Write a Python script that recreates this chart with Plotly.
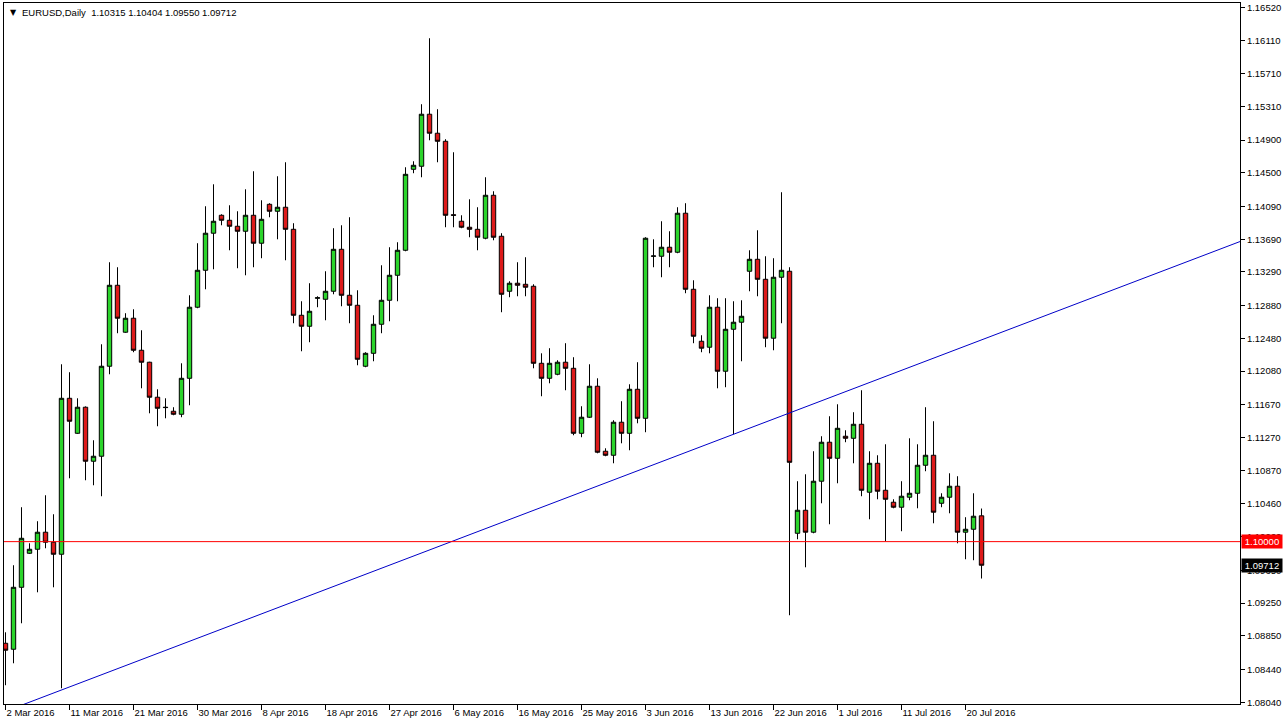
import plotly.graph_objects as go

# ---------------- data (EURUSD daily) ----------------
opens = [
    1.08760, 1.08687, 1.09443, 1.09858, 1.09907, 1.10115, 1.09993, 1.09846, 1.11749, 1.11322,
    1.11640, 1.10981, 1.11042, 1.12140, 1.13128, 1.12555, 1.12726, 1.12335, 1.12189, 1.11762,
    1.11640, 1.11591, 1.11554, 1.11993, 1.12860, 1.13311, 1.13763, 1.13982, 1.13921, 1.13848,
    1.13787, 1.13982, 1.13641, 1.14116, 1.14031, 1.14080, 1.13811, 1.12762, 1.12628, 1.12970,
    1.12957, 1.13055, 1.13567, 1.13006, 1.12884, 1.12140, 1.12298, 1.12652, 1.12945, 1.13250,
    1.13555, 1.14543, 1.14580, 1.15215, 1.14983, 1.14885, 1.13988, 1.13909, 1.13836, 1.13811,
    1.13702, 1.14226, 1.13726, 1.13055, 1.13153, 1.13140, 1.13116, 1.12176, 1.11993, 1.12042,
    1.12189, 1.12115, 1.11322, 1.11518, 1.11896, 1.11103, 1.11054, 1.11457, 1.11322, 1.11859,
    1.11505, 1.13482, 1.13482, 1.13592, 1.13531, 1.14007, 1.13079, 1.12445, 1.12372, 1.12860,
    1.12079, 1.12591, 1.12677, 1.13299, 1.13445, 1.13201, 1.12482, 1.13226, 1.13299, 1.10102,
    1.10383, 1.10115, 1.10737, 1.11213, 1.11017, 1.11286, 1.11261, 1.11432, 1.10603, 1.10956,
    1.10627, 1.10481, 1.10420, 1.10542, 1.10590, 1.10932, 1.11054, 1.10468, 1.10542, 1.10676,
    1.10115, 1.10151, 1.10315]

highs = [
    1.08894, 1.09712, 1.10420, 1.09980, 1.10249, 1.10566, 1.10334, 1.12164, 1.12067, 1.11749,
    1.11650, 1.11237, 1.12408, 1.13409, 1.13348, 1.12787, 1.12835, 1.12579, 1.12195, 1.11859,
    1.11749, 1.11640, 1.12176, 1.13006, 1.13641, 1.14092, 1.14360, 1.13994, 1.14104, 1.14031,
    1.14299, 1.14519, 1.14165, 1.14129, 1.14458, 1.14629, 1.13885, 1.12933, 1.13153, 1.12994,
    1.13299, 1.13824, 1.13860, 1.13958, 1.13067, 1.12311, 1.12762, 1.13372, 1.13592, 1.13653,
    1.14568, 1.14641, 1.15337, 1.16142, 1.15276, 1.14910, 1.14751, 1.13982, 1.14177, 1.14080,
    1.14446, 1.14275, 1.13763, 1.13177, 1.13409, 1.13470, 1.13140, 1.12298, 1.12360, 1.12213,
    1.12421, 1.12250, 1.11652, 1.12164, 1.11993, 1.11139, 1.11481, 1.11713, 1.11920, 1.12189,
    1.13714, 1.13689, 1.13909, 1.13787, 1.14080, 1.14129, 1.13189, 1.12518, 1.13006, 1.12970,
    1.12970, 1.12933, 1.12945, 1.13555, 1.13799, 1.13482, 1.13458, 1.14263, 1.13348, 1.10737,
    1.10822, 1.11103, 1.11286, 1.11530, 1.11676, 1.11359, 1.11579, 1.11847, 1.11103, 1.11054,
    1.11188, 1.10517, 1.10737, 1.11261, 1.11188, 1.11640, 1.11469, 1.10590, 1.10834, 1.10798,
    1.10298, 1.10590, 1.10404]

lows = [
    1.08248, 1.08516, 1.09004, 1.09850, 1.09382, 1.09919, 1.09443, 1.08211, 1.10773, 1.11315,
    1.10749, 1.10688, 1.10554, 1.12042, 1.12543, 1.12548, 1.12311, 1.11871, 1.11566, 1.11408,
    1.11505, 1.11542, 1.11518, 1.11664, 1.12848, 1.13079, 1.13323, 1.13860, 1.13555, 1.13336,
    1.13250, 1.13348, 1.13458, 1.13958, 1.13689, 1.13433, 1.12665, 1.12323, 1.12433, 1.12860,
    1.12701, 1.13018, 1.12872, 1.12665, 1.12152, 1.12128, 1.12201, 1.12543, 1.12689, 1.12933,
    1.13543, 1.14495, 1.14446, 1.14897, 1.14629, 1.13836, 1.13836, 1.13824, 1.13714, 1.13555,
    1.13689, 1.13677, 1.12799, 1.12982, 1.12994, 1.12994, 1.12115, 1.11774, 1.11932, 1.12030,
    1.11847, 1.11298, 1.11274, 1.11510, 1.11078, 1.11042, 1.10956, 1.11200, 1.11115, 1.11444,
    1.11335, 1.13348, 1.13226, 1.13348, 1.13519, 1.13031, 1.12421, 1.12311, 1.12298, 1.11871,
    1.11884, 1.11310, 1.12201, 1.13055, 1.12994, 1.12372, 1.12335, 1.12665, 1.09102, 1.10029,
    1.09687, 1.10102, 1.10468, 1.10212, 1.10712, 1.11213, 1.10956, 1.10554, 1.10273, 1.10517,
    1.10005, 1.10407, 1.10127, 1.10505, 1.10407, 1.10859, 1.10224, 1.10420, 1.10346, 1.09980,
    1.09785, 1.09773, 1.09550]

closes = [
    1.08675, 1.09443, 1.10041, 1.09907, 1.10115, 1.09993, 1.09846, 1.11749, 1.11469, 1.11640,
    1.10981, 1.11042, 1.12140, 1.13128, 1.12726, 1.12726, 1.12335, 1.12189, 1.11762, 1.11627,
    1.11636, 1.11554, 1.11993, 1.12860, 1.13311, 1.13763, 1.13909, 1.13921, 1.13848, 1.13787,
    1.13982, 1.13641, 1.13933, 1.14031, 1.14080, 1.13811, 1.12762, 1.12628, 1.12811, 1.12975,
    1.13055, 1.13567, 1.13006, 1.12884, 1.12225, 1.12298, 1.12652, 1.12945, 1.13250, 1.13555,
    1.14482, 1.14592, 1.15215, 1.14983, 1.14885, 1.13982, 1.13982, 1.13836, 1.13811, 1.13714,
    1.14226, 1.13714, 1.13018, 1.13153, 1.13128, 1.13104, 1.12176, 1.11993, 1.12176, 1.12189,
    1.12115, 1.11322, 1.11518, 1.11896, 1.11091, 1.11054, 1.11457, 1.11322, 1.11859, 1.11505,
    1.13702, 1.13485, 1.13592, 1.13531, 1.14007, 1.13079, 1.12506, 1.12360, 1.12860, 1.12079,
    1.12591, 1.12677, 1.12750, 1.13445, 1.13201, 1.12482, 1.13226, 1.13311, 1.10968, 1.10383,
    1.10115, 1.10737, 1.11213, 1.11017, 1.11383, 1.11261, 1.11432, 1.10627, 1.10956, 1.10615,
    1.10517, 1.10420, 1.10554, 1.10590, 1.10932, 1.11054, 1.10359, 1.10542, 1.10676, 1.10115,
    1.10151, 1.10310, 1.09712]

date_labels = ["2 Mar 2016", "11 Mar 2016", "21 Mar 2016", "30 Mar 2016", "8 Apr 2016",
               "18 Apr 2016", "27 Apr 2016", "6 May 2016", "16 May 2016", "25 May 2016",
               "3 Jun 2016", "13 Jun 2016", "22 Jun 2016", "1 Jul 2016", "11 Jul 2016",
               "20 Jul 2016"]
date_label_bars = [0, 8, 16, 24, 32, 40, 48, 56, 64, 72, 80, 88, 96, 104, 112, 120]

price_ticks = [1.16520, 1.16110, 1.15710, 1.15310, 1.14900, 1.14500, 1.14090, 1.13690,
               1.13290, 1.12880, 1.12480, 1.12080, 1.11670, 1.11270, 1.10870, 1.10460,
               1.10060, 1.09650, 1.09250, 1.08850, 1.08440, 1.08040]

symbol = "EURUSD,Daily"
hline_level = 1.10000
trend_bars = [7, 91]
trend_prices = [1.08190, 1.11310]

# ---------------- styling ----------------
BULL = "#2bd42b"
BEAR = "#dd1a1a"
FONT = "Liberation Sans, Arial, sans-serif"

bars = list(range(len(opens)))

fig = go.Figure()
fig.add_trace(go.Candlestick(
    x=bars, open=opens, high=highs, low=lows, close=closes,
    increasing=dict(fillcolor=BULL, line=dict(color="black", width=1)),
    decreasing=dict(fillcolor=BEAR, line=dict(color="black", width=1)),
    whiskerwidth=0, showlegend=False, hoverinfo="skip"))

# trend line through two anchor points, extended across the chart
slope = (trend_prices[1] - trend_prices[0]) / (trend_bars[1] - trend_bars[0])
tx = [-5, 170]
ty = [trend_prices[0] + slope * (x - trend_bars[0]) for x in tx]
fig.add_trace(go.Scatter(x=tx, y=ty, mode="lines",
                         line=dict(color="#0000c8", width=1),
                         showlegend=False, hoverinfo="skip"))

fig.add_shape(type="line", xref="paper", x0=0, x1=1, yref="y",
              y0=hline_level, y1=hline_level, line=dict(color="#ff0000", width=1))

last_o, last_h, last_l, last_c = opens[-1], highs[-1], lows[-1], closes[-1]

annotations = [
    dict(xref="paper", yref="paper", x=0, y=1, xshift=4, yshift=-9,
         xanchor="left", yanchor="middle", showarrow=False,
         text="\u25BC", font=dict(size=8, color="black", family="DejaVu Sans")),
    dict(xref="paper", yref="paper", x=0, y=1, xshift=16, yshift=-9,
         xanchor="left", yanchor="middle", showarrow=False,
         text=f"{symbol}\u00a0\u00a0{last_o:.5f} {last_h:.5f} {last_l:.5f} {last_c:.5f}",
         font=dict(size=9.5, color="black", family=FONT)),
    dict(xref="paper", yref="y", x=1, y=hline_level, xshift=1, xanchor="left",
         yanchor="middle", showarrow=False, text=f"{hline_level:.5f}",
         bgcolor="#ff0000", font=dict(size=9.5, color="white", family=FONT),
         width=38, align="center", borderpad=1),
    dict(xref="paper", yref="y", x=1, y=last_c, xshift=1, xanchor="left",
         yanchor="middle", showarrow=False, text=f"{last_c:.5f}",
         bgcolor="black", font=dict(size=9.5, color="white", family=FONT),
         width=38, align="center", borderpad=1),
]

fig.update_layout(
    width=1283, height=728,
    margin=dict(l=4, r=43, t=3, b=24, pad=0),
    paper_bgcolor="white", plot_bgcolor="white",
    boxgap=0.45, boxgroupgap=0,
    font=dict(family=FONT, size=9.5, color="black"),
    annotations=annotations,
    xaxis=dict(range=[-0.1875, 154.31], showgrid=False, zeroline=False,
               showline=True, linecolor="black", linewidth=1, mirror=True,
               ticks="outside", ticklen=5, tickcolor="black", tickwidth=1,
               tickvals=date_label_bars, ticktext=date_labels,
               ticklabelposition="outside right",
               tickfont=dict(size=9.5, family=FONT, color="black"),
               rangeslider=dict(visible=False), fixedrange=True),
    yaxis=dict(side="right", range=[1.08019, 1.16572], showgrid=False, zeroline=False,
               showline=True, linecolor="black", linewidth=1, mirror=True,
               ticks="outside", ticklen=4, tickcolor="black", tickwidth=1,
               tickvals=price_ticks, ticktext=[f"{v:.5f}" for v in price_ticks],
               tickfont=dict(size=9.5, family=FONT, color="black"), fixedrange=True),
)

fig.write_html("out.html",
               config={"displayModeBar": False, "staticPlot": True},
               post_script="document.body.style.margin='0px';document.body.style.overflow='hidden';")
